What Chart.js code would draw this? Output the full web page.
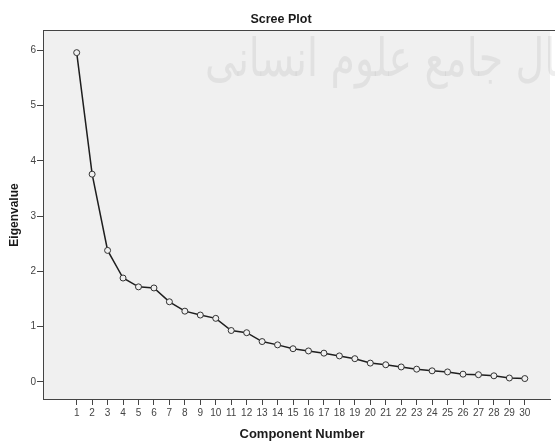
<!DOCTYPE html>
<html>
<head>
<meta charset="utf-8">
<script src="https://cdn.jsdelivr.net/npm/chart.js@4.4.1/dist/chart.umd.min.js"></script>
<style>
  html, body { margin: 0; padding: 0; background: #ffffff; }
  #wrap { width: 555px; height: 441px; position: relative; }
</style>
</head>
<body>
<div id="wrap"><canvas id="c" width="555" height="441"></canvas></div>
<script>
// ---- data ----
const components = [1,2,3,4,5,6,7,8,9,10,11,12,13,14,15,16,17,18,19,20,21,22,23,24,25,26,27,28,29,30];
const eigenvalues = [5.96,3.76,2.38,1.88,1.72,1.70,1.45,1.28,1.21,1.15,0.93,0.89,0.73,0.67,0.60,0.56,0.52,0.47,0.42,0.34,0.31,0.27,0.23,0.20,0.18,0.14,0.13,0.11,0.07,0.06];
const yTickValues = [0,1,2,3,4,5,6];
const chartTitle = 'Scree Plot';
const xTitle = 'Component Number';
const yTitle = 'Eigenvalue';
const watermark = 'پرتال جامع علوم انسانی';

const points = components.map((c, i) => ({ x: c, y: eigenvalues[i] }));

const decor = {
  id: 'decor',
  beforeDraw(chart) {
    const { ctx, chartArea: a } = chart;
    ctx.save();
    ctx.fillStyle = '#f0f0f0';
    ctx.fillRect(a.left, a.top, a.right - a.left, a.bottom - a.top);
    // faint watermark
    ctx.font = '40px "DejaVu Sans"';
    ctx.fillStyle = 'rgba(160,160,160,0.18)';
    ctx.textAlign = 'right';
    ctx.textBaseline = 'middle';
    const w = ctx.measureText(watermark).width;
    const target = 600 - 205;
    ctx.translate(600, 62);
    ctx.scale(target / w, 1.3);
    ctx.fillText(watermark, 0, 0);
    ctx.restore();
  },
  afterDraw(chart) {
    const { ctx, chartArea: a } = chart;
    ctx.save();
    ctx.strokeStyle = '#444';
    ctx.lineWidth = 1;
    ctx.beginPath();
    ctx.moveTo(a.left, a.top + 0.5);
    ctx.lineTo(555, a.top + 0.5);
    ctx.stroke();
    ctx.fillStyle = '#1a1a1a';
    ctx.textAlign = 'center';
    ctx.textBaseline = 'middle';
    ctx.font = 'bold 12.5px "Liberation Sans", Arial, sans-serif';
    ctx.fillText(chartTitle, 281, 20);
    ctx.font = 'bold 13px "Liberation Sans", Arial, sans-serif';
    ctx.fillText(xTitle, 302, 434);
    ctx.translate(15, 215);
    ctx.rotate(-Math.PI / 2);
    ctx.font = 'bold 12px "Liberation Sans", Arial, sans-serif';
    ctx.fillText(yTitle, 0, 0);
    ctx.restore();
  }
};

new Chart(document.getElementById('c'), {
  type: 'line',
  data: {
    datasets: [{
      data: points,
      borderColor: '#1e1e1e',
      borderWidth: 1.5,
      tension: 0,
      pointRadius: 3,
      pointBorderWidth: 1,
      pointBorderColor: '#333',
      pointBackgroundColor: '#f0f0f0',
      fill: false
    }]
  },
  options: {
    responsive: false,
    animation: false,
    layout: { padding: { top: 30, right: 4, left: 0, bottom: 0 } },
    plugins: { legend: { display: false }, tooltip: { enabled: false }, title: { display: false } },
    scales: {
      x: {
        type: 'linear',
        min: -1.18,
        max: 31.63,
        afterFit(s) { s.height = 42; },
        afterBuildTicks(s) { s.ticks = components.map(v => ({ value: v })); },
        grid: { display: true, drawOnChartArea: false, drawTicks: true, tickLength: 6, tickColor: '#444', tickWidth: 1 },
        border: { display: true, color: '#444', width: 1 },
        ticks: { autoSkip: false, maxRotation: 0, padding: 2, color: '#444', font: { family: '"Liberation Sans", Arial, sans-serif', size: 10 } }
      },
      y: {
        type: 'linear',
        min: -0.31,
        max: 6.37,
        afterFit(s) { s.width = 43; },
        afterBuildTicks(s) { s.ticks = yTickValues.map(v => ({ value: v })); },
        grid: { display: true, drawOnChartArea: false, drawTicks: true, tickLength: 6, tickColor: '#444', tickWidth: 1 },
        border: { display: true, color: '#444', width: 1 },
        ticks: { padding: 1, color: '#444', font: { family: '"Liberation Sans", Arial, sans-serif', size: 10 } }
      }
    }
  },
  plugins: [decor]
});
</script>
</body>
</html>
